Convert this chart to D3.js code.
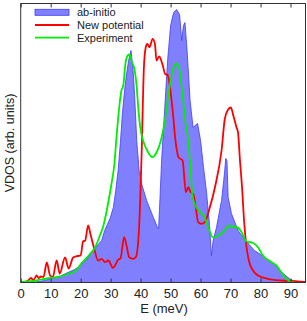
<!DOCTYPE html>
<html><head><meta charset="utf-8">
<script src="https://cdn.jsdelivr.net/npm/d3@7/dist/d3.min.js"></script>
<style>body{margin:0;background:#fff}svg{display:block}text{font-family:"Liberation Sans",Arial,sans-serif;fill:#222}</style>
</head><body><svg id="c" width="307" height="321"></svg>
<script>
const xTicks = [0,10,20,30,40,50,60,70,80,90];
const seriesNames = ["ab-initio","New potential","Experiment"];

const abE = [0,5,8,10,13,15,18,20,22,25,27,28,29.8,30.9,31.7,32.5,33.3,34,35,36,36.8,37.5,38,38.7,39.5,40.5,42,44,45.5,46,46.5,47,48,49,50,51,52,53,53.7,54.3,54.8,55.5,56.5,57.5,58.2,59,60,61,62,63,63.6,64.2,65.3,67,68,68.4,68.8,69.2,70.3,72.5,75,78,81.5,85,87.5,90,92,95];
const abV = [0,0.5,2,4,6,9,13,17,23,35,42,52,64,75,92,112,142,172,202,222,232,212,187,142,112,97,82,67,56,54,87,122,172,222,257,270,273,268,242,257,260,232,182,155,157,159,142,115,90,57,27,42,55,82,110,124,122,85,69,52,42,32,25,17,9,3,0.5,0];

const npE = [0,2,3.5,4.2,5.3,6,6.8,7.6,8.7,9.8,10.7,12,13,14.8,16,17.5,19,20,20.8,21.5,22.5,23.3,24.5,25.8,27,28.1,29.2,30.8,32.5,33.3,34.5,35.3,36.2,37.5,38.4,39.5,40.3,41.1,41.7,42.2,43,44,44.8,45.3,46.2,47.3,48.2,49,49.8,50.9,51.5,52.7,54,55.1,55.9,56.7,57.5,58.4,59.2,60.3,61.4,63.1,64.8,67,68.1,69.2,70.1,71,72,72.5,73.1,73.9,74.5,75.3,76.1,77.5,79.2,82.5,87,91.4,95];
const npV = [0.3,1,4.5,2,7,4.5,6,5.5,20,7,5.3,22,9,25,14,25,26.5,27,41,42,57,48,34,22,23.7,20.3,22,14.7,22.7,24.3,45.3,37,25.3,23.7,25.3,55.3,125.3,215.3,235,238.7,235.3,243.7,238,222,226,218,208.5,207.5,195.3,165.3,145.3,125,122,90.3,95.3,90.3,88.7,75.3,60.3,58.7,60.3,75.3,95.3,132,164,173,175,166,155,150,124,92,62,36,22,12,7,3.7,2,1.3,0.5];

const exE = [0,5.3,8.7,12,15.3,18.7,19.7,23,24.8,26.3,27.6,28.7,29.5,30.3,31.2,32,33,33.6,34.2,35,35.7,36.4,37,37.9,38.7,39.2,39.8,40.3,41.4,42.5,43.9,45.3,47,48.1,49.1,50,51,52,53,53.7,54.2,55,55.9,56.5,57.3,58.1,60,61.4,62.5,64.2,66,68.1,69.5,70.3,72,73.7,75.3,77.5,79.2,80.8,83.7,85.3,87,88.7,90.3,91.4];
const exV = [0.3,2,4,5.3,8,12.5,17,28,35,46,57,72,85,99,117,147,179,192,197,220,227,228,221,214,195.3,175.3,157,148,137,130.3,125.3,130,145,162,184,202,215,219,212,195,182,159,142,120,87,78,70,65,55.3,45,47,52,57,56,55.5,50.3,41,39.5,35,27,20.3,17,10,3.5,0.5,0];

const svg = d3.select("#c");
const L = 20.7, R = 305.5, T = 3.5, B = 282.5;
const x = d3.scaleLinear().domain([0,95]).range([L,R]);
const y = d3.scaleLinear().domain([0,279]).range([B,T]);

svg.append("defs").append("clipPath").attr("id","clip")
  .append("rect").attr("x",L).attr("y",T).attr("width",R-L).attr("height",B-T);

const g = svg.append("g").attr("clip-path","url(#clip)");
const ab = abE.map((e,i)=>[e,abV[i]]);
const np = npE.map((e,i)=>[e,npV[i]]);
const ex = exE.map((e,i)=>[e,exV[i]]);

g.append("path").datum(ab)
  .attr("d", d3.area().x(d=>x(d[0])).y0(y(0)).y1(d=>y(d[1])))
  .attr("fill","#8080ff").attr("stroke","#3c3cff").attr("stroke-width",0.8);
const line = d3.line().x(d=>x(d[0])).y(d=>y(d[1])).curve(d3.curveMonotoneX);
g.append("path").datum(np).attr("d",line).attr("fill","none").attr("stroke","#ff0000").attr("stroke-width",1.8);
g.append("path").datum(ex).attr("d",line).attr("fill","none").attr("stroke","#00ee00").attr("stroke-width",1.8);

// frame
svg.append("rect").attr("x",L).attr("y",T).attr("width",R-L).attr("height",B-T)
  .attr("fill","none").attr("stroke","#333").attr("stroke-width",1);

// x axes (ticks inward)
const xb = d3.axisBottom(x).tickValues(xTicks).tickSizeInner(-4).tickSizeOuter(0).tickPadding(6);
const gb = svg.append("g").attr("transform",`translate(0,${B})`).call(xb);
gb.select(".domain").remove();
gb.selectAll("line").attr("stroke","#333");
gb.selectAll("text").attr("font-size","13px").attr("fill","#222").attr("font-family","Liberation Sans, Arial, sans-serif");
const xt = d3.axisTop(x).tickValues(xTicks).tickSizeInner(-4).tickSizeOuter(0).tickFormat("");
const gt = svg.append("g").attr("transform",`translate(0,${T})`).call(xt);
gt.select(".domain").remove();
gt.selectAll("line").attr("stroke","#333");

// axis labels
svg.append("text").attr("x",164).attr("y",313).attr("text-anchor","middle").attr("font-size","13px").text("E (meV)");
svg.append("text").attr("transform","translate(14,143) rotate(-90)").attr("text-anchor","middle").attr("font-size","12.5px").text("VDOS (arb. units)");

// legend
const lg = svg.append("g");
const rows = [12.3, 25, 37.7];
lg.append("rect").attr("x",35).attr("y",rows[0]-3).attr("width",34).attr("height",6).attr("fill","#8080ff").attr("stroke","#3c3cff").attr("stroke-width",0.8);
lg.append("line").attr("x1",35).attr("x2",69).attr("y1",rows[1]).attr("y2",rows[1]).attr("stroke","#ff0000").attr("stroke-width",1.8);
lg.append("line").attr("x1",35).attr("x2",69).attr("y1",rows[2]).attr("y2",rows[2]).attr("stroke","#00ee00").attr("stroke-width",1.8);
seriesNames.forEach((n,i)=>{
  lg.append("text").attr("x",77).attr("y",rows[i]+4).attr("font-size","11px").text(n);
});
</script></body></html>
